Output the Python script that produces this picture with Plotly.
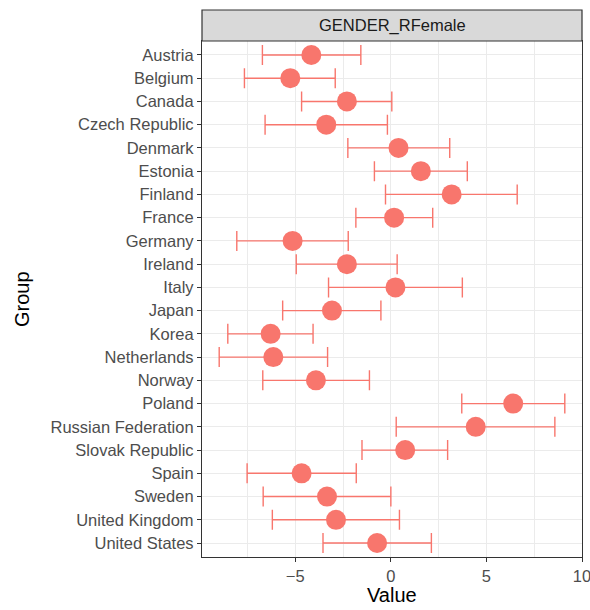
import plotly.graph_objects as go

groups = ["Austria", "Belgium", "Canada", "Czech Republic", "Denmark", "Estonia",
          "Finland", "France", "Germany", "Ireland", "Italy", "Japan", "Korea",
          "Netherlands", "Norway", "Poland", "Russian Federation", "Slovak Republic",
          "Spain", "Sweden", "United Kingdom", "United States"]
estimate = [-4.16, -5.26, -2.30, -3.38, 0.40, 1.57, 3.18, 0.17, -5.14, -2.30, 0.24,
            -3.08, -6.29, -6.15, -3.92, 6.40, 4.44, 0.75, -4.67, -3.34, -2.87, -0.72]
lower = [-6.72, -7.66, -4.67, -6.58, -2.25, -0.86, -0.28, -1.83, -8.06, -4.95, -3.26,
         -5.66, -8.53, -8.98, -6.70, 3.71, 0.28, -1.51, -7.52, -6.68, -6.20, -3.55]
upper = [-1.57, -2.91, 0.05, -0.18, 3.08, 4.00, 6.61, 2.19, -2.23, 0.33, 3.74,
         -0.52, -4.07, -3.31, -1.12, 9.10, 8.58, 2.97, -1.81, 0.00, 0.45, 2.12]
x_ticks = [-5, 0, 5, 10]
strip_label = "GENDER_RFemale"

COL = "#F8766D"
FONT = "Liberation Sans, Arial, Helvetica, sans-serif"

fig = go.Figure()
fig.add_trace(go.Scatter(
    x=estimate, y=groups, mode="markers",
    marker=dict(color=COL, size=20, line=dict(width=0)),
    error_x=dict(type="data", symmetric=False,
                 array=[u - e for u, e in zip(upper, estimate)],
                 arrayminus=[e - l for e, l in zip(estimate, lower)],
                 color=COL, thickness=1.4, width=10),
    showlegend=False,
))

W, H = 590, 610
ml, mr, mt, mb = 202, 8, 41, 53
ph = H - mt - mb
pw = W - ml - mr

fig.update_layout(
    width=W, height=H,
    margin=dict(l=ml, r=mr, t=mt, b=mb),
    paper_bgcolor="white", plot_bgcolor="white",
    font=dict(family=FONT),
    xaxis=dict(
        range=[-9.88, 10.0], tickvals=x_ticks, ticktext=["\u22125", "0", "5", "10"],
        ticklabeloverflow="allow", automargin=False,
        showgrid=True, gridcolor="#EBEBEB", gridwidth=1.3,
        minor=dict(tickvals=[-7.5, -2.5, 2.5, 7.5], showgrid=True, gridcolor="#EBEBEB", gridwidth=0.7),
        zeroline=False, showline=True, linecolor="#333333", linewidth=1.2, mirror=True,
        ticks="outside", ticklen=4, tickcolor="#333333", tickwidth=1.1,
        tickfont=dict(size=16.5, color="#4D4D4D", family=FONT),
    ),
    yaxis=dict(
        type="category", categoryorder="array", categoryarray=groups,
        range=[len(groups) - 1 + 0.6, -0.6], automargin=False,
        showgrid=True, gridcolor="#EBEBEB", gridwidth=1.3,
        zeroline=False, showline=True, linecolor="#333333", linewidth=1.2, mirror=True,
        ticks="outside", ticklen=4, tickcolor="#333333", tickwidth=1.1,
        tickfont=dict(size=16.5, color="#4D4D4D", family=FONT),
    ),
)

strip_h = 31 / ph
fig.add_shape(type="rect", xref="paper", yref="paper", x0=0, x1=1, y0=1, y1=1 + strip_h,
              fillcolor="#D9D9D9", line=dict(color="#333333", width=1.2), layer="above")
fig.add_annotation(text=strip_label, xref="paper", yref="paper", x=0.5, y=1 + strip_h / 2,
                   showarrow=False, font=dict(size=16.5, color="#1A1A1A", family=FONT),
                   xanchor="center", yanchor="middle")
fig.add_annotation(text="Value", xref="paper", yref="paper", x=0.5, y=-(595 - (mt + ph)) / ph,
                   showarrow=False, font=dict(size=20, color="black", family=FONT),
                   xanchor="center", yanchor="middle")
fig.add_annotation(text="Group", xref="paper", yref="paper", x=-(ml - 22) / pw, y=0.5,
                   showarrow=False, textangle=-90, font=dict(size=20, color="black", family=FONT),
                   xanchor="center", yanchor="middle")

fig.write_html("out.html")
